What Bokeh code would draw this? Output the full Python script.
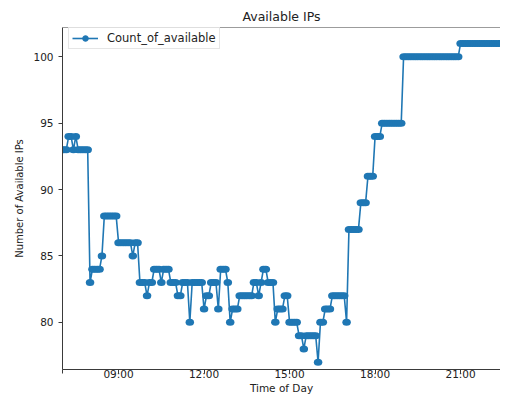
import pandas as pd
from bokeh.plotting import figure
from bokeh.models import (FixedTicker, DatetimeTickFormatter, Span, Legend,
                          LegendItem, Range1d, ColumnDataSource)
from bokeh.embed import file_html
from bokeh.resources import INLINE

# ---------------- data ----------------
title_text = "Available IPs"
x_label = "Time of Day"
y_label = "Number of Available IPs"
series_name = "Count_of_available"

day = "2024-01-01"
first_sample = "07:00"
last_sample = "23:00"
sample_step = "5min"

# one row per hour, one value every 5 minutes
count_07h = [93, 93, 93, 94, 94, 93, 94, 93, 93, 93, 93, 93]
count_08h = [83, 84, 84, 84, 84, 85, 88, 88, 88, 88, 88, 88]
count_09h = [86, 86, 86, 86, 86, 86, 85, 86, 86, 83, 83, 83]
count_10h = [82, 83, 83, 84, 84, 84, 83, 84, 84, 84, 83, 83]
count_11h = [83, 82, 82, 83, 83, 83, 80, 83, 83, 83, 83, 83]
count_12h = [81, 82, 82, 83, 83, 83, 81, 84, 84, 84, 83, 80]
count_13h = [81, 81, 81, 82, 82, 82, 82, 82, 82, 83, 83, 82]
count_14h = [83, 84, 84, 83, 83, 83, 80, 81, 81, 81, 82, 82]
count_15h = [80, 80, 80, 80, 79, 79, 78, 79, 79, 79, 79, 79]
count_16h = [77, 80, 80, 81, 81, 81, 82, 82, 82, 82, 82, 82]
count_17h = [80, 87, 87, 87, 87, 87, 89, 89, 89, 91, 91, 91]
count_18h = [94, 94, 94, 95, 95, 95, 95, 95, 95, 95, 95, 95]
count_19h = [100, 100, 100, 100, 100, 100, 100, 100, 100, 100, 100, 100]
count_20h = [100, 100, 100, 100, 100, 100, 100, 100, 100, 100, 100, 100]
count_21h = [101, 101, 101, 101, 101, 101, 101, 101, 101, 101, 101, 101]
count_22h = [101, 101, 101, 101, 101, 101, 101, 101, 101, 101, 101, 101]
count_23h = [101]

x_tick_labels = ["09:00", "12:00", "15:00", "18:00", "21:00"]
x_minor_tick_labels = ["07:02"]
y_ticks = [80, 85, 90, 95, 100]
x_view = ("07:02", "22:24")
y_view = (76.45, 102.2)

# ---------------- build ----------------
counts = (count_07h + count_08h + count_09h + count_10h + count_11h + count_12h
          + count_13h + count_14h + count_15h + count_16h + count_17h + count_18h
          + count_19h + count_20h + count_21h + count_22h + count_23h)
times = pd.date_range(f"{day} {first_sample}", f"{day} {last_sample}", freq=sample_step)
src = ColumnDataSource(dict(t=times, n=counts))


def ms(label):
    return pd.Timestamp(f"{day} {label}").value / 1e6


BLUE = "#1f77b4"
SPINE = "#3a3a3a"
TEXT = "#222222"
FONT = "DejaVu Sans"
FRAME_H = 342

p = figure(frame_width=438, frame_height=FRAME_H, x_axis_type="datetime",
           x_range=Range1d(ms(x_view[0]), ms(x_view[1])),
           y_range=Range1d(*y_view),
           output_backend="svg", toolbar_location=None,
           min_border_left=62, min_border_right=0, min_border_top=27,
           min_border_bottom=0, title=title_text)
p.background_fill_color = "white"
p.border_fill_color = "white"
p.outline_line_color = None
p.grid.visible = False

p.title.text_font = FONT
p.title.text_font_size = "12.5px"
p.title.text_font_style = "normal"
p.title.text_color = TEXT
p.title.align = "center"
p.title.offset = 8
p.title.standoff = 8

line_r = p.line("t", "n", source=src, line_color=BLUE, line_width=1.6)
p.ellipse("t", "n", source=src, width=8.5, height=7, width_units="screen",
          height_units="screen", fill_color=BLUE, line_color=None)
legend_marker = p.scatter(x=[float("nan")], y=[float("nan")], marker="circle",
                          size=7, fill_color=BLUE, line_color=BLUE)

# top spine
p.add_layout(Span(location=y_view[1], dimension="width", line_color=SPINE,
                  line_width=1))

xa = p.xaxis[0]
xa.ticker = FixedTicker(ticks=[ms(l) for l in x_tick_labels],
                        minor_ticks=[ms(l) for l in x_minor_tick_labels])
xa.formatter = DatetimeTickFormatter(hours="%H:%M", hourmin="%H:%M",
                                     days="%H:%M", minutes="%H:%M",
                                     minsec="%H:%M")
ya = p.yaxis[0]
ya.ticker = FixedTicker(ticks=y_ticks)
xa.axis_label = x_label
ya.axis_label = y_label

for ax in (xa, ya):
    ax.axis_line_color = SPINE
    ax.axis_line_width = 1
    ax.major_tick_line_color = SPINE
    ax.minor_tick_line_color = SPINE
    ax.major_tick_in = 0
    ax.major_tick_out = 4
    ax.minor_tick_in = 0
    ax.minor_tick_out = 4
    ax.major_label_text_font = FONT
    ax.major_label_text_font_size = "10.5px"
    ax.major_label_text_color = TEXT
    ax.axis_label_text_font = FONT
    ax.axis_label_text_font_style = "normal"
    ax.axis_label_text_color = TEXT

ya.minor_tick_out = 0
xa.major_label_standoff = -6
xa.axis_label_standoff = -1
xa.axis_label_text_font_size = "10.5px"
ya.major_label_standoff = 5
ya.axis_label_standoff = 5
ya.axis_label_text_font_size = "10px"

legend = Legend(items=[LegendItem(label=series_name,
                                  renderers=[line_r, legend_marker])],
                location=(6, FRAME_H - 22))
legend.padding = 3
legend.spacing = 0
legend.glyph_width = 26
legend.glyph_height = 14
legend.label_height = 14
legend.label_standoff = 9
legend.label_text_font = FONT
legend.label_text_font_size = "11.5px"
legend.label_text_color = TEXT
legend.border_line_color = "#cccccc"
legend.border_line_width = 1
legend.background_fill_color = "white"
legend.background_fill_alpha = 0.85
p.add_layout(legend)

open("out.html", "w").write(file_html(p, INLINE))
